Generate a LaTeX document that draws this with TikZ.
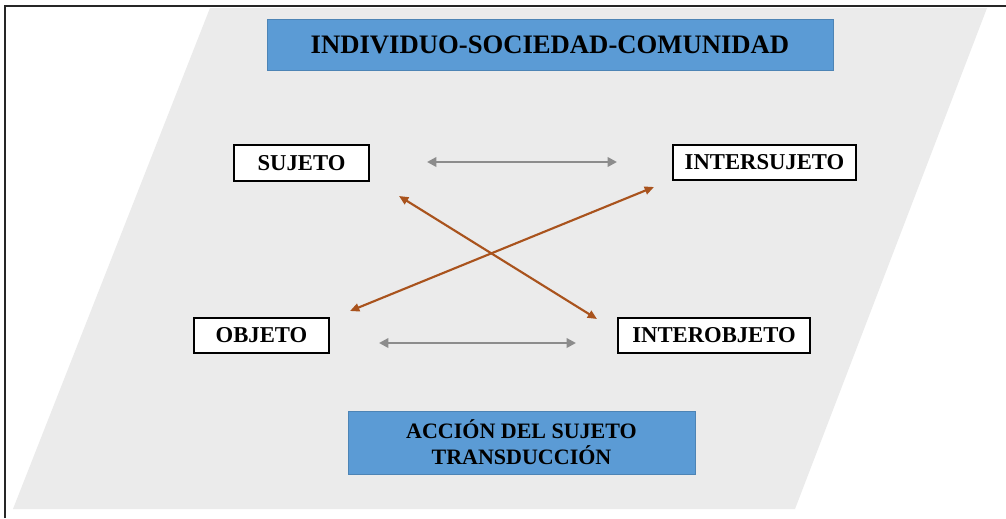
\documentclass[tikz,border=0pt]{standalone}
\usepackage{fontspec}
\setmainfont{Liberation Serif}
\usetikzlibrary{arrows.meta}
\definecolor{bgpar}{HTML}{EBEBEB}
\definecolor{bluebox}{HTML}{5B9BD5}
\definecolor{grayarrow}{HTML}{8C8C8C}
\definecolor{brownarrow}{HTML}{A9531D}
\begin{document}
\begin{tikzpicture}[x=0.75pt,y=-0.75pt,
  labelbox/.style={draw=black, line width=1pt, fill=white, inner sep=0pt, font=\fontsize{17}{19}\selectfont\bfseries},
  bluefill/.style={fill=bluebox, draw=bluebox!85!black, line width=0.3pt, inner sep=0pt},
  grayarr/.style={draw=grayarrow, line width=2.2pt, {Triangle[length=7pt,width=7pt]}-{Triangle[length=7pt,width=7pt]}},
  brownarrboth/.style={draw=brownarrow, line width=1.6pt, {Triangle[length=7pt,width=6pt]}-{Triangle[length=7pt,width=6pt]}}]
\useasboundingbox (0,0) rectangle (1006,518);
\fill[white] (0,0) rectangle (1006,518);
% outer frame lines
\draw[line width=1.5pt, black!85] (4.5,518) -- (4.5,6) -- (1006,6);
% parallelogram
\fill[bgpar] (210,8) -- (987,8) -- (795,509) -- (13,509) -- cycle;
% title
\node[bluefill, minimum width=566*0.75pt, minimum height=51*0.75pt, font=\fontsize{20}{23}\selectfont\bfseries] (title) at (550,44.5) {INDIVIDUO-SOCIEDAD-COMUNIDAD};
% label boxes
\node[labelbox, minimum width=135*0.75pt, minimum height=36*0.75pt] (suj) at (301.5,163) {SUJETO};
\node[labelbox, minimum width=183*0.75pt, minimum height=35*0.75pt] (isuj) at (764.5,162.5) {INTERSUJETO};
\node[labelbox, minimum width=135*0.75pt, minimum height=35*0.75pt] (obj) at (261.5,335.5) {OBJETO};
\node[labelbox, minimum width=192*0.75pt, minimum height=35*0.75pt] (iobj) at (714,335.5) {INTEROBJETO};
% bottom box
\node[bluefill, minimum width=347*0.75pt, minimum height=63*0.75pt, align=center, font=\fontsize{16.5}{19.5}\selectfont\bfseries] (acc) at (521.5,442.5) {ACCIÓN DEL SUJETO\\TRANSDUCCIÓN};
% arrow end coordinates
\coordinate (ga1) at (427,162);
\coordinate (ga2) at (617,162);
\coordinate (gb1) at (379,343);
\coordinate (gb2) at (576,343);
\coordinate (b1s) at (399,196);
\coordinate (b1e) at (597,319);
\coordinate (b2s) at (654,187);
\coordinate (b2e) at (350,311);
\draw[grayarr] (ga1) -- (ga2);
\draw[grayarr] (gb1) -- (gb2);
\draw[brownarrboth] (b1s) -- (b1e);
\draw[brownarrboth] (b2s) -- (b2e);
\end{tikzpicture}
\end{document}
